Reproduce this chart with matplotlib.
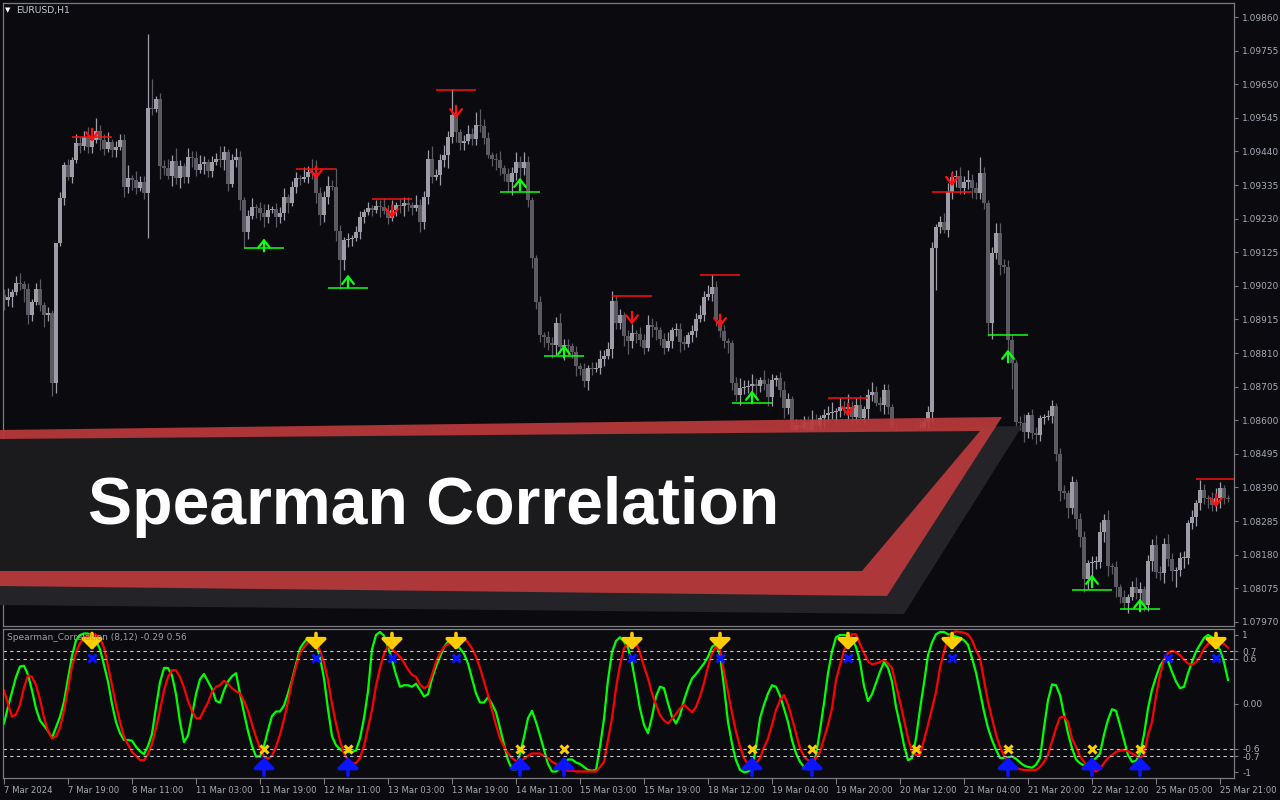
import matplotlib
matplotlib.use('Agg')
import matplotlib.pyplot as plt
from matplotlib.patches import Polygon
import numpy as np

# EURUSD H1 closes, in pips above BASE
BASE = 1.0800
first_open = 99.0
close_pips = [
    97.6, 98.4, 100.0, 103.0, 102.6, 101.0, 93.0, 97.0, 101.0, 96.0,
    93.0, 93.5, 71.6, 115.4, 129.4, 139.7, 136.0, 141.3, 146.6, 145.6,
    148.5, 145.4, 147.6, 150.4, 147.6, 144.8, 147.0, 144.4, 145.4, 147.6,
    132.9, 135.7, 135.0, 132.6, 134.4, 131.0, 157.6, 157.3, 160.4, 139.4,
    138.8, 136.3, 141.0, 135.7, 139.4, 136.0, 142.2, 142.0, 138.2, 140.0,
    140.7, 137.9, 140.7, 141.6, 141.3, 143.8, 133.8, 141.3, 142.2, 128.8,
    118.8, 123.8, 126.6, 126.3, 124.7, 123.5, 125.7, 126.0, 123.5, 124.7,
    129.7, 127.9, 132.9, 135.7, 135.4, 136.0, 137.6, 137.3, 131.0, 124.1,
    129.7, 133.2, 132.9, 119.1, 110.1, 116.3, 116.6, 116.9, 118.8, 123.5,
    125.1, 126.3, 125.7, 126.9, 126.6, 125.4, 123.2, 125.7, 127.3, 126.9,
    127.9, 127.3, 126.3, 127.3, 121.9, 129.7, 141.6, 136.0, 136.6, 141.3,
    142.9, 148.5, 155.4, 150.1, 146.6, 147.2, 149.4, 147.9, 152.3, 152.0,
    148.2, 142.9, 141.6, 141.3, 138.8, 136.9, 134.4, 137.2, 140.7, 138.8,
    140.7, 128.8, 110.7, 96.9, 86.6, 86.0, 84.1, 83.5, 90.4, 82.9,
    83.5, 83.2, 81.3, 76.9, 76.0, 72.3, 76.3, 76.0, 76.3, 79.1,
    80.1, 82.3, 97.3, 90.4, 92.9, 86.3, 84.7, 87.2, 87.0, 85.1,
    82.6, 89.8, 89.1, 88.2, 85.4, 82.6, 84.7, 88.2, 88.5, 84.4,
    83.8, 86.6, 87.9, 91.6, 92.9, 98.5, 99.4, 101.6, 91.3, 87.9,
    84.7, 84.1, 71.6, 67.9, 70.1, 70.5, 70.7, 71.3, 70.7, 72.6,
    71.3, 67.3, 72.6, 73.2, 69.4, 63.8, 66.6, 56.9, 58.5, 57.6,
    59.4, 56.9, 60.1, 58.2, 60.7, 61.6, 62.3, 62.6, 62.9, 64.1,
    63.5, 64.1, 61.0, 64.8, 60.7, 63.5, 67.9, 68.8, 65.4, 64.8,
    69.4, 64.1, 56.9, 55.1, 53.8, 54.5, 53.2, 55.1, 56.3, 57.6,
    59.4, 62.6, 113.8, 120.4, 121.9, 119.4, 131.3, 136.0, 136.3, 132.6,
    134.4, 135.1, 132.6, 131.0, 137.3, 127.9, 90.4, 112.3, 118.5, 108.5,
    108.0, 85.1, 77.9, 59.4, 59.0, 56.3, 61.6, 56.0, 55.5, 60.7,
    61.0, 61.2, 64.4, 49.4, 37.9, 37.3, 32.6, 40.7, 29.1, 23.5,
    10.4, 15.4, 15.6, 15.7, 25.1, 28.8, 14.4, 14.1, 7.9, 4.8,
    2.9, 4.8, 7.9, 6.0, 7.3, 2.3, 16.0, 21.0, 12.6, 12.2,
    21.3, 16.6, 12.9, 13.2, 16.9, 17.0, 27.9, 29.8, 34.1, 38.2,
    35.7, 35.5, 33.5, 35.7, 38.8, 35.7, 35.4,
]
# wick lengths in pips
upper_wick = [
    2, 3, 1, 2, 3, 1, 2, 1, 2, 3, 1, 2, 1, 0, 2, 1, 2, 1, 3, 2,
    2, 3, 2, 4, 2, 2, 3, 1, 2, 2, 2, 4, 1, 3, 2, 2, 23, 9, 1, 2,
    2, 3, 2, 4, 2, 1, 3, 2, 2, 3, 2, 1, 2, 2, 4, 2, 1, 2, 3, 2,
    1, 2, 3, 1, 2, 3, 2, 1, 2, 2, 3, 1, 2, 2, 1, 3, 2, 4, 4, 2,
    2, 3, 2, 6, 2, 1, 2, 1, 2, 2, 1, 2, 1, 2, 2, 3, 2, 3, 1, 2,
    2, 2, 1, 3, 2, 2, 3, 4, 2, 2, 3, 2, 8, 2, 1, 2, 3, 2, 4, 5,
    2, 2, 1, 2, 3, 1, 2, 2, 3, 2, 3, 2, 1, 1, 2, 1, 2, 2, 2, 3,
    2, 2, 1, 2, 1, 2, 1, 2, 2, 3, 2, 2, 3, 2, 2, 1, 2, 3, 1, 2,
    2, 3, 2, 2, 1, 2, 3, 1, 2, 2, 2, 1, 2, 2, 3, 2, 3, 4, 2, 2,
    2, 1, 1, 2, 3, 2, 2, 3, 2, 1, 3, 2, 2, 1, 2, 3, 2, 1, 2, 2,
    2, 2, 3, 2, 1, 2, 2, 3, 1, 3, 2, 4, 2, 2, 3, 1, 2, 3, 2, 2,
    2, 2, 1, 2, 2, 2, 1, 2, 2, 2, 1, 2, 2, 1, 2, 3, 3, 2, 2, 3,
    2, 3, 2, 2, 5, 2, 1, 2, 3, 3, 2, 2, 2, 1, 2, 3, 1, 2, 2, 1,
    1, 2, 2, 1, 2, 2, 1, 2, 1, 2, 2, 1, 2, 2, 3, 2, 3, 1, 2, 1,
    2, 1, 2, 3, 2, 1, 2, 2, 3, 2, 2, 3, 2, 1, 2, 2, 1, 2, 1, 3,
    2, 1, 2, 3, 2, 1, 1,
]
lower_wick = [
    3, 2, 3, 1, 2, 4, 3, 2, 1, 2, 4, 2, 4, 3, 1, 2, 1, 2, 1, 2,
    1, 2, 2, 1, 3, 2, 1, 2, 2, 1, 3, 2, 3, 2, 1, 2, 14, 2, 1, 4,
    2, 1, 3, 2, 3, 2, 2, 3, 2, 1, 3, 2, 2, 1, 2, 3, 2, 1, 2, 3,
    5, 2, 1, 3, 2, 3, 2, 1, 3, 2, 2, 3, 1, 2, 2, 1, 2, 2, 3, 3,
    2, 2, 1, 3, 9, 3, 2, 2, 1, 2, 2, 1, 2, 1, 3, 1, 2, 1, 2, 2,
    3, 2, 2, 1, 3, 2, 2, 2, 1, 3, 2, 4, 2, 3, 2, 2, 1, 2, 2, 2,
    2, 1, 2, 3, 2, 2, 3, 4, 2, 4, 2, 2, 3, 2, 2, 3, 2, 4, 3, 2,
    4, 3, 2, 3, 2, 2, 3, 2, 1, 2, 2, 1, 3, 2, 2, 3, 4, 2, 3, 2,
    2, 1, 3, 3, 2, 2, 1, 2, 2, 3, 2, 1, 2, 2, 1, 2, 1, 2, 2, 2,
    2, 3, 2, 2, 3, 2, 2, 2, 4, 2, 2, 3, 3, 2, 2, 3, 2, 2, 3, 2,
    2, 3, 2, 2, 2, 3, 2, 2, 3, 2, 2, 3, 2, 2, 2, 2, 3, 2, 1, 2,
    3, 2, 2, 3, 2, 2, 3, 2, 2, 3, 2, 2, 3, 13, 2, 1, 2, 2, 3, 2,
    2, 2, 3, 2, 2, 2, 4, 5, 2, 3, 2, 3, 8, 2, 2, 3, 2, 2, 3, 2,
    2, 1, 2, 2, 3, 2, 3, 2, 3, 3, 4, 3, 4, 2, 2, 3, 3, 2, 3, 2,
    2, 3, 1, 2, 3, 2, 2, 3, 2, 2, 3, 2, 3, 5, 2, 3, 2, 2, 3, 2,
    2, 3, 2, 2, 3, 2, 1,
]

# Spearman correlation (8,12), values x100
spearman_fast = [
    -26, -4, 16, 36, 50, 51, 39, 18, -6, -22,
    -29, -36, -45, -31, -17, 3, 34, 64, 85, 92,
    94, 94, 90, 84, 73, 52, 30, 0, -24, -39,
    -48, -48, -49, -57, -63, -67, -56, -40, -4, 29,
    48, 48, 38, 13, -24, -51, -42, -15, 13, 33,
    40, 30, 20, 4, 2, 18, 30, 37, 41, 14,
    -12, -36, -56, -70, -70, -56, -35, -16, -10, -10,
    -2, 14, 32, 53, 74, 82, 88, 88, 80, 62,
    34, -7, -43, -55, -60, -64, -64, -64, -62, -46,
    -19, 17, 73, 92, 96, 91, 76, 59, 39, 23,
    25, 25, 23, 27, 19, 10, 13, 34, 50, 63,
    76, 83, 84, 80, 74, 67, 54, 34, 14, 2,
    2, 9, 0, -11, -32, -54, -75, -87, -87, -66,
    -44, -19, -9, -24, -42, -61, -80, -90, -90, -86,
    -80, -74, -74, -78, -80, -84, -88, -89, -88, -57,
    -20, 32, 69, 84, 89, 83, 75, 54, 25, -6,
    -28, -39, -17, 10, 23, 21, 1, -17, -26, -15,
    5, 21, 34, 40, 47, 54, 63, 76, 80, 65,
    23, -24, -53, -75, -88, -91, -90, -86, -57, -19,
    -1, 14, 25, 23, 11, -6, -24, -48, -66, -77,
    -84, -87, -86, -68, -35, 1, 41, 70, 89, 92,
    92, 91, 87, 76, 56, 24, 4, 13, 28, 43,
    56, 48, 30, -4, -28, -55, -75, -72, -46, -7,
    28, 65, 82, 93, 96, 96, 93, 92, 90, 88,
    85, 79, 61, 42, 16, -10, -32, -48, -61, -72,
    -72, -71, -70, -73, -78, -82, -84, -85, -81, -72,
    -32, 5, 26, 25, 12, -14, -39, -59, -74, -79,
    -82, -83, -77, -72, -66, -41, -21, -7, -9, -28,
    -48, -68, -77, -76, -66, -41, -6, 19, 36, 51,
    59, 57, 43, 30, 21, 23, 41, 56, 70, 79,
    88, 92, 89, 81, 72, 56, 32,
]
spearman_slow = [
    18, 0, -17, -14, -1, 22, 38, 36, 25, 6,
    -18, -36, -46, -43, -32, -9, 21, 50, 69, 81,
    88, 91, 92, 92, 88, 75, 51, 25, -1, -24,
    -44, -54, -64, -69, -75, -75, -67, -53, -32, -8,
    18, 36, 45, 45, 36, 22, 4, -9, -19, -19,
    -8, 2, 16, 23, 25, 31, 27, 21, 17, 14,
    4, -9, -27, -44, -59, -70, -73, -69, -57, -41,
    -20, 3, 30, 50, 68, 76, 82, 86, 83, 71,
    55, 32, 0, -26, -49, -66, -74, -79, -79, -72,
    -56, -32, -8, 24, 48, 67, 77, 73, 68, 63,
    55, 46, 39, 36, 26, 21, 24, 39, 56, 68,
    76, 80, 83, 86, 88, 87, 82, 74, 63, 48,
    30, 12, -8, -28, -46, -57, -66, -72, -76, -77,
    -73, -69, -66, -66, -66, -69, -72, -77, -80, -86,
    -88, -89, -89, -90, -90, -90, -90, -90, -90, -84,
    -77, -48, -19, 21, 52, 74, 83, 88, 81, 68,
    50, 34, 14, -1, -15, -22, -26, -20, -13, -6,
    -1, -6, -11, -4, 10, 28, 50, 68, 76, 72,
    43, 16, -12, -37, -57, -72, -81, -86, -79, -72,
    -58, -46, -28, -8, 5, 12, -1, -19, -39, -59,
    -70, -75, -77, -72, -64, -46, -28, -6, 32, 52,
    71, 85, 93, 93, 80, 68, 57, 53, 54, 56,
    59, 54, 48, 25, 3, -21, -46, -64, -68, -68,
    -48, -28, -6, 16, 48, 70, 88, 94, 97, 96,
    95, 93, 85, 72, 61, 32, 3, -19, -41, -57,
    -69, -77, -81, -85, -87, -88, -88, -88, -88, -84,
    -77, -68, -50, -32, -18, -17, -24, -46, -57, -70,
    -77, -84, -87, -90, -86, -79, -72, -68, -64, -62,
    -61, -63, -66, -69, -72, -68, -41, -24, 10, 39,
    59, 68, 71, 69, 65, 59, 54, 52, 56, 63,
    74, 80, 84, 85, 84, 80, 75,
]

# signals on the price chart (bar, level line, arrow level in pips)
sell_bars = [22, 78, 97, 113, 157, 179, 211, 237, 303]
sell_line = [148.5, 138.5, 129.0, 163.2, 98.8, 105.4, 67.0, 131.3, 41.6]
sell_arrow = [149.1, 137.3, 125.1, 156.3, 91.9, 91.0, 63.2, 135.1, 34.8]
buy_bars = [65, 86, 129, 140, 187, 251, 272, 284]
buy_line = [113.8, 101.3, 131.3, 80.1, 65.4, 86.6, 6.9, 1.0]
buy_arrow = [114.8, 103.5, 133.8, 81.6, 67.3, 80.1, 9.8, 2.3]

# signals in the indicator window
ind_top_cross = sell_bars + [291]
ind_bottom_cross = [65, 86, 129, 140, 187, 202, 228, 251, 272, 284]
ind_up_arrow = [65, 86, 129, 140, 187, 202, 251, 272, 284]

price_ticks = [1.09860, 1.09755, 1.09650, 1.09545, 1.09440, 1.09335, 1.09230,
               1.09125, 1.09020, 1.08915, 1.08810, 1.08705, 1.08600, 1.08495,
               1.08390, 1.08285, 1.08180, 1.08075, 1.07970]
ind_ticks = [0.92, 0.7, 0.6, 0.0, -0.6, -0.7, -0.91]
ind_tick_labels = ['1', '0.7', '0.6', '0.00', '-0.6', '-0.7', '-1']
levels = [0.7, 0.6, -0.6, -0.7]

time_labels = ['7 Mar 2024', '7 Mar 19:00', '8 Mar 11:00', '11 Mar 03:00',
               '11 Mar 19:00', '12 Mar 11:00', '13 Mar 03:00', '13 Mar 19:00',
               '14 Mar 11:00', '15 Mar 03:00', '15 Mar 19:00', '18 Mar 12:00',
               '19 Mar 04:00', '19 Mar 20:00', '20 Mar 12:00', '21 Mar 04:00',
               '21 Mar 20:00', '22 Mar 12:00', '25 Mar 05:00', '25 Mar 21:00']
label_step = 16

n = len(close_pips)
assert len(upper_wick) == n and len(lower_wick) == n
assert len(spearman_fast) == n and len(spearman_slow) == n

BG = '#0b0b0f'
FRAME = '#7a7a80'
TXT = '#a6aab6'
BULL = '#9d9da8'
BEAR = '#5a5a60'
YEL = '#ffcc00'
BLUE = '#0a14ff'

W, H = 1280, 800
fig = plt.figure(figsize=(12.8, 8), dpi=100, facecolor=BG)


def fx(x):
    return x / W


def fy(y):
    return 1 - y / H


ax = fig.add_axes([fx(3), fy(626), fx(1234) - fx(3), fy(3) - fy(626)], facecolor=BG)
ax2 = fig.add_axes([fx(3), fy(778), fx(1234) - fx(3), fy(629) - fy(778)], facecolor=BG)

XLIM = (-0.25, 307.5)

idx = np.arange(n)
close = BASE + np.array(close_pips) / 1e4
opn = np.concatenate([[BASE + first_open / 1e4], close[:-1]])
high = np.maximum(opn, close) + np.array(upper_wick) / 1e4
low = np.minimum(opn, close) - np.array(lower_wick) / 1e4
cols = np.where(close >= opn, BULL, BEAR)

ax.vlines(idx, low, high, colors=cols, lw=0.9)
body = np.maximum(np.abs(close - opn), 0.00003)
ax.bar(idx, body, bottom=np.minimum(opn, close), width=0.78, color=cols,
       linewidth=0, antialiased=False)

# signal lines + arrows
for b, lv, ar in zip(sell_bars, sell_line, sell_arrow):
    ax.hlines(BASE + lv / 1e4, b - 5, b + 5, color='#ff1010', lw=1.1)
    ax.annotate('', xy=(b, BASE + (ar - 2.0) / 1e4), xytext=(b, BASE + (ar + 2.0) / 1e4),
                arrowprops=dict(arrowstyle='->,head_width=0.35,head_length=0.45',
                                color='#ff1010', lw=1.6, mutation_scale=12,
                                shrinkA=0, shrinkB=0))
for b, lv, ar in zip(buy_bars, buy_line, buy_arrow):
    ax.hlines(BASE + lv / 1e4, b - 5, b + 5, color='#10ff10', lw=1.1)
    ax.annotate('', xy=(b, BASE + (ar + 2.0) / 1e4), xytext=(b, BASE + (ar - 2.0) / 1e4),
                arrowprops=dict(arrowstyle='->,head_width=0.35,head_length=0.45',
                                color='#10ff10', lw=1.6, mutation_scale=12,
                                shrinkA=0, shrinkB=0))

ax.set_xlim(*XLIM)
ax.set_ylim(BASE - 4.3 / 1e4, BASE + 190.4 / 1e4)
ax.yaxis.tick_right()
ax.set_yticks(price_ticks)
ax.set_yticklabels(['%.5f' % t for t in price_ticks])
ax.set_xticks([])
ax.tick_params(axis='y', colors=FRAME, labelcolor=TXT, labelsize=6.5, length=3, pad=3)

# indicator window
ax2.plot(idx, np.array(spearman_fast) / 100, color='#00ff00', lw=1.6)
ax2.plot(idx, np.array(spearman_slow) / 100, color='#ff0000', lw=1.6)
for lv in levels:
    ax2.axhline(lv, color='#c8c8c8', lw=0.8, ls=(0, (3, 3)))

for b in sell_bars:
    ax2.annotate('', xy=(b, 0.72), xytext=(b, 0.94),
                 arrowprops=dict(arrowstyle='-|>,head_width=0.45,head_length=0.45',
                                 color=YEL, lw=2.6, mutation_scale=14, shrinkA=0, shrinkB=0))
for b in ind_up_arrow:
    ax2.annotate('', xy=(b, -0.71), xytext=(b, -0.95),
                 arrowprops=dict(arrowstyle='-|>,head_width=0.45,head_length=0.45',
                                 color=BLUE, lw=2.6, mutation_scale=14, shrinkA=0, shrinkB=0))
ax2.plot(ind_top_cross, [0.61] * len(ind_top_cross), 'x', color=BLUE, ms=6, mew=2.2)
ax2.plot(ind_bottom_cross, [-0.6] * len(ind_bottom_cross), 'x', color=YEL, ms=6, mew=2.2)

ax2.set_xlim(*XLIM)
ax2.set_ylim(-0.987, 1.0)
ax2.yaxis.tick_right()
ax2.set_yticks(ind_ticks)
ax2.set_yticklabels(ind_tick_labels)
ax2.tick_params(axis='y', colors=FRAME, labelcolor=TXT, labelsize=6.5, length=3, pad=3)
ax2.set_xticks(idx[::label_step][:len(time_labels)])
ax2.set_xticklabels(time_labels)
ax2.tick_params(axis='x', colors=FRAME, labelcolor=TXT, labelsize=6.1, length=4, pad=2)
for t in ax2.get_xticklabels():
    t.set_horizontalalignment('left')

for a in (ax, ax2):
    for s in a.spines.values():
        s.set_color(FRAME)
        s.set_linewidth(0.9)

ax2.text(0.0035, 0.97, 'Spearman_Correlation (8,12) -0.29 0.56', transform=ax2.transAxes,
         color='#9a9aa4', fontsize=6.5, va='top', ha='left')
fig.text(fx(5), fy(10), '\u25BC', color='white', fontsize=5, va='center', ha='left')
fig.text(fx(16), fy(10), 'EURUSD,H1', color='#c4c8d4', fontsize=6.7, va='center', ha='left')

# title banner
def poly(pts, color, alpha=1.0, z=2):
    p = Polygon([(fx(x), fy(y)) for x, y in pts], closed=True, transform=fig.transFigure,
                facecolor=color, edgecolor='none', alpha=alpha, zorder=z)
    fig.add_artist(p)


poly([(0, 445), (1022, 426), (904, 614), (0, 605)], '#242428', 1.0, 2)
poly([(0, 430), (1002, 417), (887, 596), (0, 586)], '#b8393b', 0.93, 3)
poly([(0, 439), (980, 431), (862, 571), (0, 571)], '#1b1b1d', 1.0, 4)
fig.text(fx(88), fy(524), 'Spearman Correlation', color='white', fontsize=47.6,
         fontweight='bold', family=['Liberation Sans', 'DejaVu Sans'],
         va='baseline', ha='left', zorder=5)

fig.savefig('out.png', dpi=100, facecolor=BG)
